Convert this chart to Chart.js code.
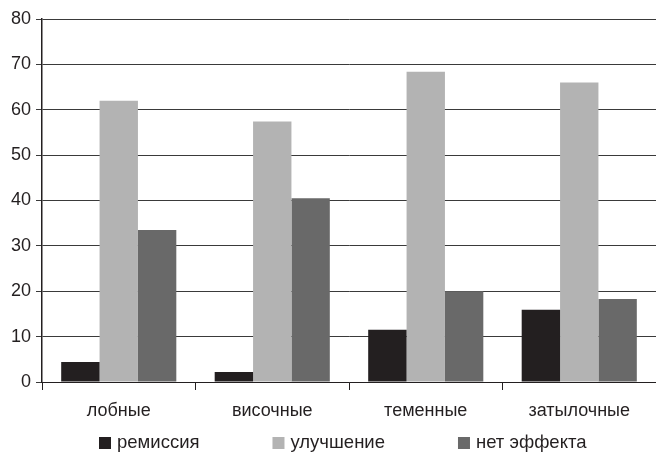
<!DOCTYPE html>
<html><head><meta charset="utf-8">
<script src="https://cdn.jsdelivr.net/npm/chart.js@4/dist/chart.umd.min.js"></script>
<style>html,body{margin:0;padding:0;background:#fff}#w{width:656px;height:457px}</style>
</head><body><div id="w"><canvas id="c"></canvas></div>
<script>
const categories = ['лобные', 'височные', 'теменные', 'затылочные'];
const remission = [4.4, 2.2, 11.5, 15.9];
const improvement = [62.0, 57.4, 68.4, 66.0];
const noEffect = [33.5, 40.5, 20.0, 18.3];
const yTicks = [0, 10, 20, 30, 40, 50, 60, 70, 80];

const FAMILY = '"Liberation Sans", Arial, sans-serif';
const font = {family: FAMILY, size: 18};

const customLegend = {
  id: 'customLegend',
  afterDraw(chart) {
    const ctx = chart.ctx;
    ctx.save();
    ctx.font = '18.5px ' + FAMILY;
    ctx.textBaseline = 'middle';
    const box = 12, gapBox = 6, gapItem = 73;
    let x = 99;
    const y = 443;
    chart.data.datasets.forEach(d => {
      const w = ctx.measureText(d.label).width;
      ctx.fillStyle = d.backgroundColor;
      ctx.fillRect(x, y - box / 2, box, box);
      ctx.fillStyle = '#231f20';
      ctx.fillText(d.label, x + box + gapBox, y);
      x += box + gapBox + w + gapItem;
    });
    ctx.restore();
  }
};

new Chart(document.getElementById('c'), {
  type: 'bar',
  data: {
    labels: categories,
    datasets: [
      {label: 'ремиссия', data: remission, backgroundColor: '#231f20'},
      {label: 'улучшение', data: improvement, backgroundColor: '#b3b3b3'},
      {label: 'нет эффекта', data: noEffect, backgroundColor: '#696969'}
    ]
  },
  plugins: [customLegend],
  options: {
    responsive: true, maintainAspectRatio: false, animation: false,
    devicePixelRatio: 1,
    layout: {padding: {top: 19, right: 0, left: 0, bottom: 0}},
    datasets: {bar: {barPercentage: 1, categoryPercentage: 0.75}},
    plugins: {
      tooltip: {enabled: false},
      legend: {display: false}
    },
    scales: {
      x: {
        afterFit: a => { a.height = 75; },
        grid: {drawOnChartArea: false, offset: true, tickLength: 8, color: '#231f20'},
        border: {color: '#231f20', width: 1},
        ticks: {color: '#231f20', font: font, padding: 10}
      },
      y: {
        min: 0, max: 80,
        afterBuildTicks: a => { a.ticks = yTicks.map(v => ({value: v})); },
        afterFit: a => { a.width = 42; },
        grid: {color: '#3a3a3a', tickLength: 6},
        border: {color: '#231f20', width: 1.5},
        ticks: {color: '#231f20', font: font, padding: 5}
      }
    }
  }
});
</script></body></html>
